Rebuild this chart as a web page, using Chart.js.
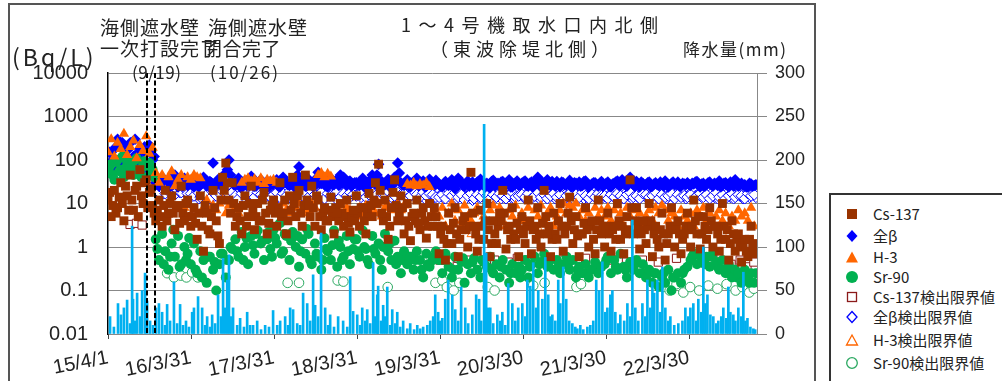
<!DOCTYPE html>
<html lang="ja">
<head>
<meta charset="UTF-8">
<title>1〜4号機取水口内北側</title>
<script src="https://cdn.jsdelivr.net/npm/chart.js"></script>
<style>
  body { margin: 0; background: #fff; width: 1002px; height: 381px; overflow: hidden; position: relative;
         font-family: "Noto Sans CJK JP", sans-serif; color: #222; }
  #frame { position: absolute; left: 8px; top: 3px; width: 808px; height: 390px; border: 2px solid #555; box-sizing: border-box; }
  #chart { position: absolute; left: 0; top: 0; }
  .t { position: absolute; white-space: nowrap; line-height: 1; }
  #legend { position: absolute; left: 829px; top: 193px; width: 190px; height: 200px; border: 2px solid #333; box-sizing: border-box; }
  .li { position: absolute; left: 0; height: 20px; line-height: 20px; font-size: 15px; white-space: nowrap; }
  .li svg { position: absolute; left: 14px; top: 3px; }
  .li span { position: absolute; left: 42px; }
</style>
</head>
<body>
<div id="frame"></div>
<canvas id="chart" width="815" height="381"></canvas>

<div class="t" style="left:12px;top:45px;font-size:23px;letter-spacing:3px">(Bq/L)</div>
<div class="t" style="left:100px;top:17px;font-size:19px;letter-spacing:1px">海側遮水壁</div>
<div class="t" style="left:100px;top:38px;font-size:19px;letter-spacing:1px">一次打設完了</div>
<div class="t" style="left:132px;top:63px;font-size:17px;letter-spacing:0.5px">(9/19)</div>
<div class="t" style="left:208px;top:17px;font-size:19px;letter-spacing:1px">海側遮水壁</div>
<div class="t" style="left:203px;top:38px;font-size:19px;letter-spacing:0.5px">閉合完了</div>
<div class="t" style="left:210px;top:63px;font-size:17px;letter-spacing:2px">(10/26)</div>
<div class="t" style="left:401px;top:15px;font-size:18px;letter-spacing:7.5px">1〜4号機取水口内北側</div>
<div class="t" style="left:430px;top:39px;font-size:18px;letter-spacing:5px">（東波除堤北側）</div>
<div class="t" style="left:683px;top:40px;font-size:17px;letter-spacing:1.5px">降水量(mm)</div>

<div id="legend">
  <div class="li" style="top:9px"><svg width="14" height="14"><rect x="2" y="2" width="10" height="10" fill="#993300"/></svg><span>Cs-137</span></div>
  <div class="li" style="top:31px"><svg width="14" height="14"><polygon points="7,1 12.5,7 7,13 1.5,7" fill="#0000ff"/></svg><span>全β</span></div>
  <div class="li" style="top:52px"><svg width="14" height="14"><polygon points="7,1.5 13,12.5 1,12.5" fill="#ff6600"/></svg><span>H-3</span></div>
  <div class="li" style="top:72px"><svg width="14" height="14"><circle cx="7" cy="7" r="6" fill="#00b050"/></svg><span>Sr-90</span></div>
  <div class="li" style="top:92px"><svg width="14" height="14"><rect x="2.5" y="2.5" width="9" height="9" fill="#fff" stroke="#8b1a1a" stroke-width="1.3"/></svg><span>Cs-137検出限界値</span></div>
  <div class="li" style="top:112px"><svg width="14" height="14"><polygon points="7,1.5 12,7 7,12.5 2,7" fill="#fff" stroke="#0000ff" stroke-width="1.3"/></svg><span>全β検出限界値</span></div>
  <div class="li" style="top:135px"><svg width="14" height="14"><polygon points="7,2 12.5,12 1.5,12" fill="#fff" stroke="#ff6600" stroke-width="1.3"/></svg><span>H-3検出限界値</span></div>
  <div class="li" style="top:158px"><svg width="14" height="14"><circle cx="7" cy="7" r="5.3" fill="#fff" stroke="#2aa860" stroke-width="1.3"/></svg><span>Sr-90検出限界値</span></div>
</div>

<script>
// sampling days (days after 2015/4/1), two interleaved weekly sets
const days = [0,14,28,42,56,70,84,98,112,126,140,154,168,182,196,210,224,238,252,266,280,294,308,322,336,350,
  364,378,392,406,420,434,448,462,476,490,504,518,532,546,560,574,588,602,616,630,644,658,672,686,700,714,
  728,742,756,770,784,798,812,826,840,854,868,882,896,910,924,938,952,966,980,994,1008,1022,1036,1050,1064,1078,
  1092,1106,1120,1134,1148,1162,1176,1190,1204,1218,1232,1246,1260,1274,1288,1302,1316,1330,1344,1358,1372,1386,1400,1414,1428,1442,
  1456,1470,1484,1498,1512,1526,1540,1554,1568,1582,1596,1610,1624,1638,1652,1666,1680,1694,1708,1722,1736,1750,1764,1778,1792,1806,
  1820,1834,1848,1862,1876,1890,1904,1918,1932,1946,1960,1974,1988,2002,2016,2030,2044,2058,2072,2086,2100,2114,2128,2142,2156,2170,
  2184,2198,2212,2226,2240,2254,2268,2282,2296,2310,2324,2338,2352,2366,2380,2394,2408,2422,2436,2450,2464,2478,2492,2506,2520,2534,
  2548,2562,2576,2590,2604,2618,2632,2646,2660,2674,2688,2702,2716,2730,2744,2758,2772,2786,2800,2814,2828,2842];
const days2 = [7,21,35,49,63,77,91,105,119,133,147,161,175,189,203,217,231,245,259,273,287,301,315,329,343,357,
  371,385,399,413,427,441,455,469,483,497,511,525,539,553,567,581,595,609,623,637,651,665,679,693,707,721,
  735,749,763,777,791,805,819,833,847,861,875,889,903,917,931,945,959,973,987,1001,1015,1029,1043,1057,1071,1085,
  1099,1113,1127,1141,1155,1169,1183,1197,1211,1225,1239,1253,1267,1281,1295,1309,1323,1337,1351,1365,1379,1393,1407,1421,1435,1449,
  1463,1477,1491,1505,1519,1533,1547,1561,1575,1589,1603,1617,1631,1645,1659,1673,1687,1701,1715,1729,1743,1757,1771,1785,1799,1813,
  1827,1841,1855,1869,1883,1897,1911,1925,1939,1953,1967,1981,1995,2009,2023,2037,2051,2065,2079,2093,2107,2121,2135,2149,2163,2177,
  2191,2205,2219,2233,2247,2261,2275,2289,2303,2317,2331,2345,2359,2373,2387,2401,2415,2429,2443,2457,2471,2485,2499,2513,2527,2541,
  2555,2569,2583,2597,2611,2625,2639,2653,2667,2681,2695,2709,2723,2737,2751,2765,2779,2793,2807,2821,2835,2849];

const cs137 = [
  12,5,20,8,30,4,15,45,7,25,60,10,35,18,9,4,12,3,20,6,15,2.5,9,25,4,12,
  3,8,1.5,15,0.8,6,2,20,4,1.2,40,85,12,30,3,8,2,15,5,25,2.5,10,4,18,2,7,
  12,3,30,6,2,15,40,5,20,3,45,9,25,3,12,2.5,8,4,14,2,6,10,3,12,2.2,7,
  15,3,8,2,17,5,30,80,6,12,1.5,8,35,4,15,2,10,1.4,6,12,2.5,8,1.6,10,3,5,
  0.7,3,0.5,6,1.2,8,0.6,2.5,5,1,52,3,0.8,7,1.5,10,0.6,4,1.2,6,20,0.9,3,8,1.5,0.6,
  5,1.2,12,0.7,3,8,1,20,2,0.6,6,1.5,10,0.8,3,14,1.2,5,0.6,2,8,1,4,0.7,12,2,
  1,6,0.8,3,10,1.5,0.7,5,35,2,8,0.9,4,1.2,10,0.6,3,1,6,0.5,2,8,1,4,0.7,2,
  6,1,12,2,0.9,5,1.5,8,1,3,0.8,10,1.5,0.5,4,0.8,2,0.45,1.5,0.6,3,0.7];
const cs137b = [
  18,9,6,14,10,25,7,12,20,5,15,30,8,22,6,7,5,9,4,10,6,8,3.5,6,10,5,
  5,3.5,6,3,9,2.5,5,8,1.8,12,20,30,6,10,5,4,9,3,10,7,5,4,12,6,3.5,9,
  6,8,5,12,4,7,10,15,6,9,12,5,8,15,5,6,4,7,5,8,4,6,5,3.5,5,4,
  6,8,4,6,9,12,10,20,4,5,3,18,9,6,8,4,3,5,4,3.5,6,4,3,5,8,3,
  2,1.5,1.2,2.5,3.5,2,1.5,4,2.5,3,6,2,1.5,3,4,2.5,1.2,2,3,4,6,2.5,1.5,2,3.5,2.5,
  2,3,4,2.5,1.5,2,3.5,5,3,1.5,2,4,3,2,6,4,2.5,1.8,2,3.5,2.5,3,1.5,2.5,4,3,
  3,2,2.5,1.5,4,3,2,2.5,8,4,3,2,2.5,3,4,2,1.5,2.5,2,1.2,3,2.5,3,2,1.5,3,
  2.5,3,4,5,2,3,2.5,4,3,2,1.5,3,2.5,1.2,2,1.5,1,1.2,0.8,1.5,1,1.2];

const beta = [
  80,150,60,300,100,200,70,250,120,90,180,60,140,220,100,30,25,40,22,35,28,45,24,30,38,26,
  30,24,35,28,40,25,32,85,27,36,24,50,100,30,26,38,23,33,28,42,25,30,35,24,28,32,
  28,35,24,40,30,26,32,38,70,30,25,36,28,33,52,29,35,24,38,27,31,45,40,26,33,28,
  30,26,38,24,33,45,28,80,32,27,36,25,40,85,30,26,35,24,31,38,27,33,25,36,29,34,
  28,24,32,26,35,22,38,30,25,33,27,24,31,36,26,29,23,34,28,25,32,27,35,24,30,26,
  29,33,25,31,27,40,24,30,35,26,28,32,24,30,27,34,25,29,31,26,33,24,28,30,25,32,
  27,31,24,29,33,26,30,25,40,28,32,24,29,27,31,25,30,26,28,33,24,29,27,31,25,28,
  30,26,28,32,24,29,27,31,25,28,33,26,30,24,28,35,25,29,27,24,28,26];
const beta2 = [
  150,100,200,80,250,120,180,90,300,150,100,200,80,160,120,28,32,26,30,24,34,27,31,25,29,33,
  26,31,24,29,33,27,30,25,35,28,32,60,45,27,31,24,29,26,34,28,25,31,27,30,24,29,
  31,25,29,34,27,30,24,45,28,33,26,30,24,38,29,32,25,30,27,33,26,29,35,31,25,30,
  27,32,24,30,28,35,45,30,26,31,24,29,33,50,27,31,25,29,33,26,30,24,28,32,26,30,
  25,29,27,31,24,30,33,26,29,25,31,28,26,30,24,27,32,25,29,31,26,30,24,28,33,27,
  31,26,29,24,33,28,30,26,29,32,25,28,31,27,29,24,30,27,25,32,28,26,30,27,29,25,
  29,25,28,31,26,35,27,29,30,25,28,31,26,30,24,28,27,31,25,29,26,31,28,25,29,27,
  27,29,31,26,28,25,30,27,29,26,24,29,27,31,25,30,27,26,24,29,25,27];

const h3 = [
  150,300,120,250,180,400,130,200,280,110,220,160,350,140,190,50,30,45,20,40,55,25,35,45,8,40,
  35,45,40,38,8,12,6,9,7,10,12,6,9,10,8,6,30,35,38,32,36,30,38,28,35,33,
  35,30,8,10,7,6,9,8,10,6,9,7,10,8,45,50,40,48,42,7,8,9,6,8,7,6,
  6,8,5,9,7,8,6,10,5,8,9,7,8,10,7,9,28,26,30,25,28,26,30,24,6,5,
  5,8,3,6,10,4,7,3,9,5,4,6,8,3,5,10,7,9,4,8,6,3,7,5,9,4,
  6,4,8,3,7,5,9,4,6,8,3,5,7,10,6,9,8,10,5,7,4,6,3,8,5,7,
  5,8,4,7,9,6,3,8,5,7,4,6,3,5,7,4,8,6,9,7,4,6,5,3,7,5,
  4,6,3,7,5,8,4,6,3,5,7,4,6,3,5,4,7,5,6,4,8,3];

const sr90 = [
  50,80,35,100,60,40,90,70,45,110,55,75,40,85,60,1.5,0.5,2,0.8,0.3,1.2,0.6,1.8,0.4,1,0.7,
  0.4,1.2,0.25,0.8,0.5,0.15,0.6,0.3,0.1,0.4,0.7,0.2,0.5,0.9,1.5,0.6,2.2,1,0.4,1.8,0.7,2.4,1.2,0.5,1.5,0.9,
  2.5,1.2,3.5,0.8,1.8,0.5,2.2,1,0.35,1.5,0.7,2,0.4,1.2,0.6,0.3,1.6,0.8,0.5,2.4,0.35,1,0.6,1.8,0.4,0.9,
  1.5,0.6,2.4,0.9,0.4,1.8,0.7,1.2,0.3,2,0.8,0.5,1.4,0.6,0.25,0.8,0.4,0.6,0.3,0.8,0.5,0.2,0.7,0.35,0.5,0.8,
  0.5,0.25,0.7,0.35,0.2,0.6,0.3,0.45,0.15,0.4,0.25,0.55,0.3,0.2,0.45,0.35,0.6,0.25,0.4,0.2,0.5,0.3,0.15,0.4,0.25,0.35,
  0.3,0.5,0.2,0.4,0.6,0.25,0.45,0.7,0.35,0.55,0.3,0.5,0.25,0.4,0.6,0.3,0.5,0.2,0.35,0.25,0.4,0.2,0.3,0.45,0.25,0.35,
  0.4,0.6,0.25,0.5,0.3,0.7,0.35,0.2,0.45,0.3,0.5,0.25,0.4,0.2,0.3,0.15,0.25,0.12,0.2,0.15,0.3,0.1,0.2,0.25,0.15,0.3,
  0.35,0.5,0.7,0.4,0.85,0.5,0.6,0.35,0.7,0.45,0.3,0.5,0.25,0.4,0.2,0.3,0.25,0.15,0.3,0.2,0.25,0.15];
const sr90b = [
  70,45,90,55,120,65,50,80,100,60,40,95,70,55,40,0.9,null,0.4,null,0.6,2.5,null,0.35,null,0.5,1.6,
  null,0.3,null,0.2,null,0.6,null,0.45,null,0.7,null,0.5,1,null,0.8,null,0.5,1.6,null,1.1,2,null,1.4,null,2.2,0.6,
  1.6,null,0.7,2,null,1.4,null,1.8,0.8,null,2.6,0.5,null,0.7,null,0.5,0.9,null,1.1,null,1.4,0.5,null,0.8,null,1.5,
  0.8,null,1,0.5,null,0.9,null,0.5,1,null,1.2,null,0.4,null,0.5,null,0.6,null,0.5,null,0.3,null,0.4,null,0.6,null,
  null,0.5,null,null,0.3,null,null,0.55,null,null,0.45,null,null,0.5,null,null,0.3,null,null,0.35,null,null,0.25,null,null,0.2,
  null,null,0.35,null,null,0.4,null,null,0.45,null,null,0.35,null,null,0.4,null,null,0.3,null,null,0.25,null,null,0.3,null,null,
  0.5,null,null,0.35,null,null,0.3,null,null,0.4,null,null,0.25,null,null,0.25,null,null,0.25,null,null,0.2,null,null,0.25,null,
  null,0.6,null,0.65,null,0.4,null,0.6,null,0.35,null,0.3,null,0.3,null,0.2,null,0.2,null,0.15,null,0.25];

const betaLimit = [
  null,null,null,null,null,null,null,null,null,null,null,null,null,null,null,20,18,22,17,19,21,16,20,18,22,17,
  17,15,19,14,18,16,13,18,15,17,19,14,16,18,15,13,17,19,15,16,14,18,16,15,17,14,
  16,18,14,17,15,19,13,16,18,15,17,14,19,16,15,18,13,17,15,16,19,14,17,15,18,16,
  15,17,19,14,16,18,15,13,17,16,19,14,15,18,16,17,13,15,19,16,14,18,15,17,16,14,
  14,16,13,17,15,18,14,16,12,15,17,13,16,14,18,15,13,16,14,17,15,13,16,18,14,15,
  16,14,17,13,15,18,14,16,13,15,17,14,16,12,15,17,13,16,14,18,15,13,16,14,17,15,
  15,13,16,14,17,15,13,16,18,14,15,13,17,16,14,15,18,13,16,14,15,17,13,16,14,15,
  14,16,13,15,17,14,16,13,15,18,14,16,13,15,17,14,16,15,13,17,15,16];
const betaLimit2 = [
  null,null,null,null,null,null,null,null,null,null,null,null,null,null,null,19,21,17,20,18,16,22,18,20,17,19,
  15,18,13,16,19,14,17,15,18,13,16,18,14,17,19,15,14,16,18,13,17,15,19,14,16,18,
  18,14,16,19,13,17,15,18,14,16,19,15,13,17,18,14,16,15,19,13,17,16,14,18,15,17,
  17,14,16,18,13,15,19,16,14,18,15,17,13,16,19,14,18,16,14,17,15,13,18,16,14,17,
  16,13,15,14,17,13,16,15,14,17,12,15,14,17,13,16,15,14,17,13,16,15,14,13,17,16,
  14,17,13,16,15,13,17,14,16,15,13,17,14,16,14,13,16,15,17,13,14,16,15,17,13,14,
  14,16,15,13,16,14,17,15,13,16,14,17,15,13,16,17,14,16,15,13,17,14,16,15,17,13,
  16,13,15,17,14,16,15,17,14,13,16,15,17,14,13,16,15,13,16,14,17,14];

// [day, value] for sparse limit series
const csLimit = [[97,3.3],[125,3.5],[150,3.2],[1460,0.5],[1500,0.45],[1540,0.55],[1580,0.5],[1620,0.45],[1700,0.5],
  [1760,0.45],[1800,0.55],[1850,0.5],[1950,0.45],[2000,0.5],[2100,0.55],[2200,0.5],[2280,0.45],[2350,0.5],[2420,0.45],
  [2500,0.55],[2600,0.6],[2660,0.5],[2700,0.45],[2740,0.4],[2780,0.5],[2810,0.35],[2840,0.45]];
const h3Limit = [[1600,2],[1900,2.2],[2300,2],[2700,2.1]];
const srLimit = [[260,0.25],[290,0.2],[320,0.22],[345,0.2],[370,0.26],[395,0.2],[790,0.15],[840,0.15],[1010,0.17],
  [1035,0.16],[1230,0.12],[1440,0.15],[1470,0.17],[1490,0.12],[1520,0.1],[1545,0.15],[1670,0.12],[1700,0.1],[1870,0.13],
  [1920,0.15],[2060,0.12],[2080,0.14],[2440,0.12],[2470,0.1],[2500,0.14],[2530,0.09],[2560,0.12],[2600,0.1],[2640,0.13],
  [2680,0.11],[2720,0.14],[2760,0.1],[2790,0.12],[2820,0.09],[2840,0.11]];

// daily rainfall [day, mm]
const rain = [[9,20],[26,8],[44,35],[57,22],[70,30],[84,39],[97,12],[106,124],[110,40],[119,15],[128,47],[141,20],[150,50],
  [163,70],[172,38],[185,15],[198,10],[211,30],[224,35],[238,25],[251,10],[260,34],[273,15],[290,60],[304,12],[317,34],
  [330,10],[343,15],[356,8],[370,25],[378,30],[396,43],[414,30],[427,10],[436,20],[449,8],[458,22],[471,12],[484,45],
  [497,20],[506,87],[515,30],[524,62],[532,91],[541,20],[550,30],[568,10],[581,18],[598,8],[612,25],[625,10],[638,10],
  [656,15],[673,5],[691,10],[708,8],[726,27],[744,10],[757,15],[779,20],[792,10],[801,30],[814,28],[832,12],[845,10],
  [858,47],[876,35],[889,15],[902,68],[911,33],[924,20],[937,116],[955,30],[968,10],[977,22],[994,8],[1012,20],[1034,15],
  [1052,8],[1065,66],[1078,26],[1096,22],[1109,10],[1118,30],[1131,15],[1140,28],[1153,12],[1166,82],[1175,20],[1184,45],
  [1188,55],[1201,15],[1210,33],[1219,20],[1228,54],[1241,10],[1250,28],[1263,12],[1272,25],[1285,8],[1298,15],[1316,6],
  [1329,12],[1346,5],[1360,10],[1373,6],[1386,8],[1404,10],[1417,15],[1430,20],[1439,45],[1452,25],[1461,15],[1470,18],
  [1483,40],[1496,62],[1514,45],[1527,28],[1540,15],[1553,54],[1571,30],[1584,12],[1602,22],[1619,45],[1632,40],[1641,15],
  [1654,241],[1663,93],[1672,30],[1681,30],[1694,12],[1712,22],[1725,15],[1734,25],[1747,10],[1760,58],[1778,35],[1791,15],
  [1804,30],[1822,35],[1835,20],[1844,62],[1857,55],[1870,82],[1883,30],[1892,50],[1910,40],[1923,88],[1936,45],[1945,20],
  [1954,22],[1967,15],[1980,62],[1989,35],[2002,77],[2015,40],[2028,15],[2042,12],[2055,8],[2064,6],[2077,10],[2090,5],
  [2108,8],[2121,10],[2134,15],[2147,62],[2160,50],[2174,83],[2187,25],[2196,30],[2209,45],[2218,50],[2231,25],[2244,12],
  [2253,22],[2270,15],[2284,35],[2297,20],[2306,131],[2319,30],[2332,15],[2350,35],[2363,20],[2372,62],[2385,30],[2394,60],
  [2402,47],[2416,62],[2429,25],[2438,77],[2451,30],[2464,15],[2473,20],[2490,10],[2508,12],[2526,15],[2539,30],[2552,20],
  [2561,30],[2574,35],[2587,15],[2596,40],[2609,25],[2618,100],[2627,35],[2636,45],[2649,22],[2662,20],[2675,12],[2684,15],
  [2697,20],[2706,30],[2719,18],[2728,54],[2737,25],[2750,22],[2759,15],[2772,30],[2785,20],[2794,71],[2803,15],[2812,18],
  [2825,8],[2838,6],[2846,5]];

const eventDays = [171, 208]; // 2015/9/19, 2015/10/26
const xTickDays = [0, 365, 730, 1095, 1460, 1825, 2190, 2555];
const xTickLabels = ['15/4/1', '16/3/31', '17/3/31', '18/3/31', '19/3/31', '20/3/30', '21/3/30', '22/3/30'];
const yTicks = [0.01, 0.1, 1, 10, 100, 1000, 10000];

const series = (dd, vals) => dd.map((d, i) => ({ x: d, y: vals[i] }));
const pairs = arr => arr.map(p => ({ x: p[0], y: p[1] }));

const eventLines = {
  id: 'eventLines',
  afterDatasetsDraw(chart) {
    const { ctx, chartArea, scales } = chart;
    ctx.save();
    ctx.strokeStyle = '#000';
    ctx.lineWidth = 2;
    ctx.setLineDash([5, 2.5]);
    eventDays.forEach(d => {
      const x = Math.round(scales.x.getPixelForValue(d));
      ctx.beginPath();
      ctx.moveTo(x, chartArea.top);
      ctx.lineTo(x, chartArea.bottom);
      ctx.stroke();
    });
    ctx.restore();
  }
};

const CS = '#993300', BETA = '#0000ff', H3 = '#ff6600', SR = '#00b050';
const filled = (label, data, style, r, color, order) => ({
  label, data, pointStyle: style, pointRadius: r, backgroundColor: color, borderColor: color, borderWidth: 0, order });
const open = (label, data, style, r, color, order) => ({
  label, data, pointStyle: style, pointRadius: r, backgroundColor: '#fff', borderColor: color, borderWidth: 1, order });

const tickFont = { family: 'Liberation Sans', size: 20 };

new Chart(document.getElementById('chart'), {
  type: 'scatter',
  data: {
    datasets: [
      { type: 'bar', label: '降水量', data: pairs(rain), yAxisID: 'y2', backgroundColor: '#00b0f0',
        barThickness: 2, grouped: false, order: 0 },
      filled('Cs-137', series(days, cs137), 'rect', 6.3, CS, 1),
      filled('Cs-137', series(days2, cs137b), 'rect', 6.3, CS, 1),
      filled('H-3', series(days, h3), 'triangle', 6, H3, 2),
      filled('Sr-90', series(days, sr90), 'circle', 5, SR, 3),
      filled('Sr-90', series(days2, sr90b), 'circle', 5, SR, 3),
      filled('全β', series(days, beta), 'rectRot', 5.8, BETA, 4),
      filled('全β', series(days2, beta2), 'rectRot', 5.8, BETA, 4),
      open('Cs-137検出限界値', pairs(csLimit), 'rect', 5.8, '#8b1a1a', 5),
      open('全β検出限界値', series(days, betaLimit), 'rectRot', 5.5, BETA, 6),
      open('全β検出限界値', series(days2, betaLimit2), 'rectRot', 5.5, BETA, 6),
      open('Sr-90検出限界値', pairs(srLimit), 'circle', 4.8, '#2aa860', 7),
      open('H-3検出限界値', pairs(h3Limit), 'triangle', 5.5, H3, 8)
    ]
  },
  options: {
    responsive: false,
    animation: false,
    events: [],
    layout: { padding: { top: 73, left: 0, right: 0, bottom: 0 } },
    plugins: { legend: { display: false }, tooltip: { enabled: false } },
    scales: {
      x: {
        type: 'linear', min: 0, max: 2854, offset: false,
        afterFit: s => { s.height = 47; },
        afterBuildTicks: s => { s.ticks = xTickDays.map(v => ({ value: v })); },
        grid: { drawOnChartArea: false, offset: false, tickLength: 5, color: '#444' },
        border: { color: '#888', width: 1 },
        ticks: { autoSkip: false, minRotation: 11, maxRotation: 11, padding: 7, color: '#222', font: tickFont,
                 callback: (v, i) => xTickLabels[i] }
      },
      y: {
        type: 'logarithmic', position: 'left', min: 0.01, max: 10000,
        afterFit: s => { s.width = 108; },
        afterBuildTicks: s => { s.ticks = yTicks.map(v => ({ value: v })); },
        grid: { color: '#888', lineWidth: 1, drawTicks: false },
        border: { color: '#000', width: 1.5 },
        ticks: { padding: 20, color: '#222', font: tickFont, callback: v => String(v) }
      },
      y2: {
        type: 'linear', position: 'right', min: 0, max: 300,
        afterFit: s => { s.width = 58; },
        grid: { drawOnChartArea: false, tickLength: 10, color: '#888' },
        border: { color: '#888', width: 1 },
        ticks: { stepSize: 50, padding: 8, color: '#222', font: { family: 'Liberation Sans', size: 18 } }
      }
    }
  },
  plugins: [eventLines]
});
</script>
</body>
</html>
